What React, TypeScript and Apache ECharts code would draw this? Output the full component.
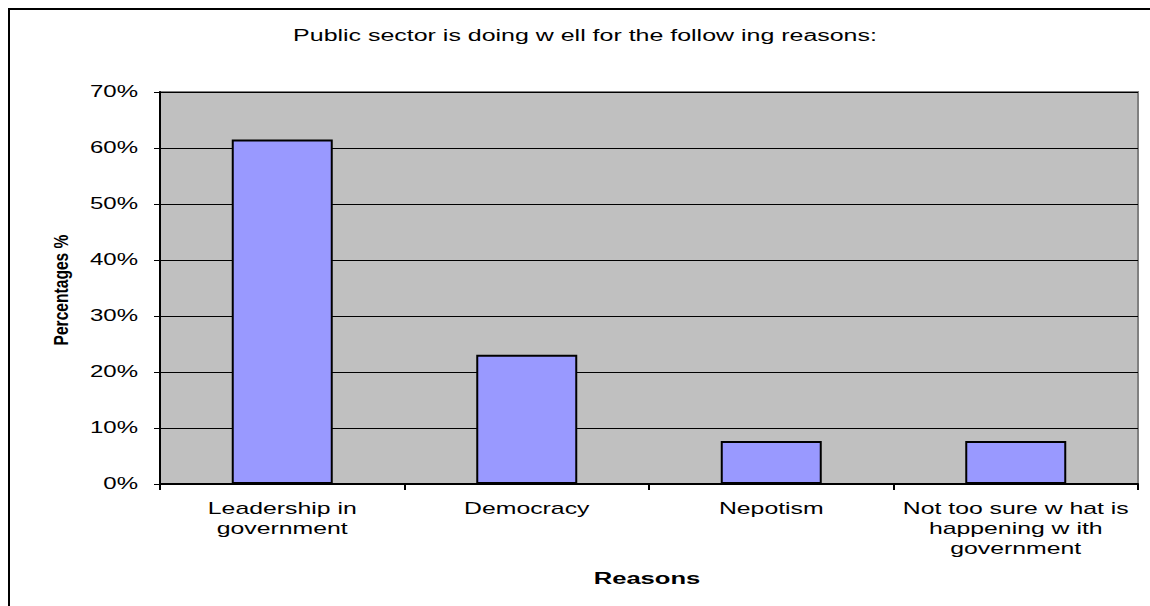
import React, { useEffect, useRef } from "react";
import * as echarts from "echarts";

const categories = [
  "Leadership in\ngovernment",
  "Democracy",
  "Nepotism",
  "Not too sure w hat is\nhappening w ith\ngovernment",
];
const values = [61.5, 23.1, 7.7, 7.7];
const yTicks = [0, 10, 20, 30, 40, 50, 60, 70];
const titleText = "Public sector is doing w ell for the follow ing reasons:";
const yAxisName = "Percentages %";
const xAxisName = "Reasons";

export default function App() {
  const ref = useRef<HTMLDivElement>(null);
  useEffect(() => {
    const chart = echarts.init(ref.current!, null, { renderer: "svg" });
    const font = "Liberation Sans, Arial, sans-serif";
    const SX = 1.55;
    chart.setOption({
      animation: false,
      backgroundColor: "#ffffff",
      grid: {
        left: 160,
        top: 92,
        right: 12,
        bottom: 122,
        show: true,
        backgroundColor: "#c0c0c0",
        borderColor: "#808080",
        borderWidth: 2,
      },
      xAxis: {
        type: "category",
        data: categories,
        axisLine: { show: true, lineStyle: { color: "#000", width: 2 } },
        axisTick: { show: true, length: 6, lineStyle: { color: "#000", width: 2 } },
        axisLabel: { show: false },
        splitLine: { show: false },
      },
      yAxis: {
        type: "value",
        min: 0,
        max: 70,
        interval: 10,
        axisLine: { show: true, lineStyle: { color: "#000", width: 2 } },
        axisTick: { show: true, length: 6, lineStyle: { color: "#000", width: 1 } },
        axisLabel: { show: false },
        splitLine: { show: true, lineStyle: { color: "#000", width: 1 } },
      },
      series: [
        {
          type: "bar",
          data: values,
          barWidth: 101,
          itemStyle: { color: "#9999ff", borderColor: "#000", borderWidth: 2 },
        },
      ],
    });

    const graphics: any[] = [
      {
        type: "rect",
        shape: { x: 9, y: 9, width: 1170, height: 640 },
        style: { fill: "none", stroke: "#000", lineWidth: 2 },
        silent: true,
      },
      {
        type: "text",
        x: 585,
        y: 35,
        scaleX: 1.56,
        style: {
          text: titleText,
          fontFamily: font,
          fontSize: 16,
          fill: "#000",
          align: "center",
          verticalAlign: "middle",
        },
      },
      {
        type: "text",
        x: 61,
        y: 290,
        rotation: Math.PI / 2,
        scaleX: 0.78,
        scaleY: 1,
        style: {
          text: yAxisName,
          fontFamily: "Liberation Sans Narrow, Arial Narrow, sans-serif",
          fontSize: 20,
          fontWeight: "bold",
          fill: "#000",
          align: "center",
          verticalAlign: "middle",
        },
      },
    ];

    const bottomY = chart.convertToPixel({ yAxisIndex: 0 }, 0) as number;
    const centers = categories.map((_, i) => chart.convertToPixel({ xAxisIndex: 0 }, i) as number);
    const plotCenter = (centers[0] + centers[centers.length - 1]) / 2;

    graphics.push({
      type: "text",
      x: plotCenter - 2,
      y: bottomY + 95,
      scaleX: 1.6,
      style: {
        text: xAxisName,
        fontFamily: font,
        fontSize: 16,
        fontWeight: "bold",
        fill: "#000",
        align: "center",
        verticalAlign: "middle",
      },
    });

    categories.forEach((c, i) => {
      graphics.push({
        type: "text",
        x: centers[i],
        y: bottomY + 14,
        scaleX: SX,
        style: {
          text: c,
          fontFamily: font,
          fontSize: 16,
          lineHeight: 20,
          fill: "#000",
          align: "center",
          verticalAlign: "top",
        },
      });
    });

    yTicks.forEach((v) => {
      const y = chart.convertToPixel({ yAxisIndex: 0 }, v) as number;
      graphics.push({
        type: "text",
        x: 138,
        y: y,
        scaleX: 1.5,
        style: {
          text: v + "%",
          fontFamily: font,
          fontSize: 16,
          fill: "#000",
          align: "right",
          verticalAlign: "middle",
        },
      });
    });

    chart.setOption({ graphic: graphics });
    return () => chart.dispose();
  }, []);
  return (
    <div
      ref={ref}
      style={{ position: "fixed", left: 0, top: 0, width: 1150, height: 606 }}
    />
  );
}
